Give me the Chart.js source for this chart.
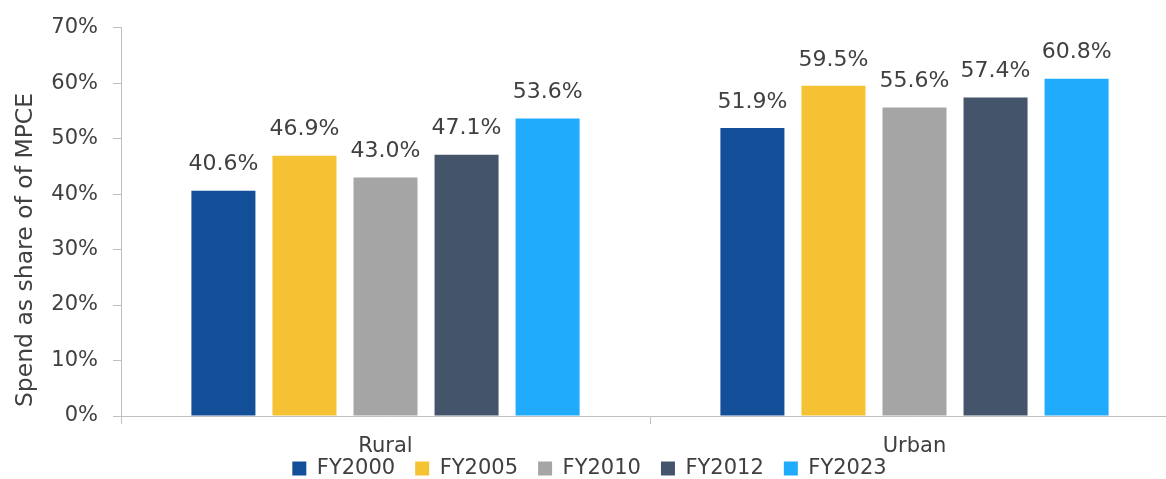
<!DOCTYPE html>
<html>
<head>
<meta charset="utf-8">
<script src="https://cdn.jsdelivr.net/npm/chart.js@4"></script>
<style>
  html, body { margin: 0; padding: 0; overflow: hidden; background: #fff; }
  #wrap { width: 1179px; height: 489px; }
</style>
</head>
<body>
<div id="wrap"><canvas id="myChart"></canvas></div>
<script>
// Data
const categories = ['Rural', 'Urban'];
const seriesNames = ['FY2000', 'FY2005', 'FY2010', 'FY2012', 'FY2023'];
const fy2000 = [40.6, 51.9];
const fy2005 = [46.9, 59.5];
const fy2010 = [43.0, 55.6];
const fy2012 = [47.1, 57.4];
const fy2023 = [53.6, 60.8];
const yTicks = [0, 10, 20, 30, 40, 50, 60, 70];

const colors = ['#134e98', '#f4c232', '#a5a5a5', '#44546a', '#21abfc'];
const textColor = '#404040';
const axisColor = '#bfbfbf';
const fontFamily = '"DejaVu Sans", Verdana, sans-serif';

// value labels above each bar
const barLabels = {
    id: 'barLabels',
    afterDatasetsDraw(chart) {
        const ctx = chart.ctx;
        ctx.save();
        ctx.font = '22px ' + fontFamily;
        ctx.fillStyle = textColor;
        ctx.textAlign = 'center';
        ctx.textBaseline = 'middle';
        chart.data.datasets.forEach(function(ds, i) {
            chart.getDatasetMeta(i).data.forEach(function(bar, j) {
                ctx.fillText(ds.data[j].toFixed(1) + '%', bar.x, bar.y - 26);
            });
        });
        ctx.restore();
    }
};

// y axis title, placed like the original
const yTitle = {
    id: 'yTitle',
    afterDraw(chart) {
        const ctx = chart.ctx;
        ctx.save();
        ctx.translate(26, 250);
        ctx.rotate(-Math.PI / 2);
        ctx.font = '23.5px ' + fontFamily;
        ctx.fillStyle = textColor;
        ctx.textAlign = 'center';
        ctx.textBaseline = 'middle';
        ctx.fillText('Spend as share of of MPCE', 0, 0);
        ctx.restore();
    }
};

const allSeries = [fy2000, fy2005, fy2010, fy2012, fy2023];

const ctx = document.getElementById('myChart').getContext('2d');
const myChart = new Chart(ctx, {
    type: 'bar',
    data: {
        labels: categories,
        datasets: seriesNames.map(function(name, i) {
            return {
                label: name,
                data: allSeries[i],
                backgroundColor: colors[i],
                borderWidth: 0,
                categoryPercentage: 0.766,
                barPercentage: 0.79
            };
        })
    },
    options: {
        responsive: true,
        maintainAspectRatio: false,
        animation: false,
        layout: { padding: { top: 27, right: 0, bottom: 0, left: 0 } },
        plugins: {
            tooltip: { enabled: false },
            legend: {
                position: 'bottom',
                labels: {
                    boxWidth: 14,
                    boxHeight: 14,
                    padding: 0,
                    color: textColor,
                    font: { family: fontFamily, size: 21 },
                    // padding is 0 so the legend sits close to the axis labels,
                    // spacing between items comes from trailing spaces
                    generateLabels: function(chart) {
                        const items = Chart.defaults.plugins.legend.labels.generateLabels(chart);
                        items.forEach(function(it, i) {
                            if (i < items.length - 1) it.text = it.text + '   ';
                        });
                        return items;
                    }
                }
            }
        },
        scales: {
            x: {
                grid: { drawOnChartArea: false, color: axisColor, tickLength: 8 },
                border: { color: axisColor, width: 1 },
                ticks: { color: textColor, padding: 10, font: { family: fontFamily, size: 21 } },
                afterFit: function(scale) { scale.height = 42; }
            },
            y: {
                min: 0,
                max: 70,
                afterBuildTicks: function(scale) {
                    scale.ticks = yTicks.map(function(v) { return { value: v }; });
                },
                grid: { drawOnChartArea: false, color: axisColor, tickLength: 8 },
                border: { color: axisColor, width: 1 },
                ticks: {
                    color: textColor,
                    padding: 15,
                    font: { family: fontFamily, size: 21 },
                    callback: function(v) { return v + '%'; }
                },
                afterFit: function(scale) { scale.width = 121; }
            }
        }
    },
    plugins: [barLabels, yTitle]
});
</script>
</body>
</html>
